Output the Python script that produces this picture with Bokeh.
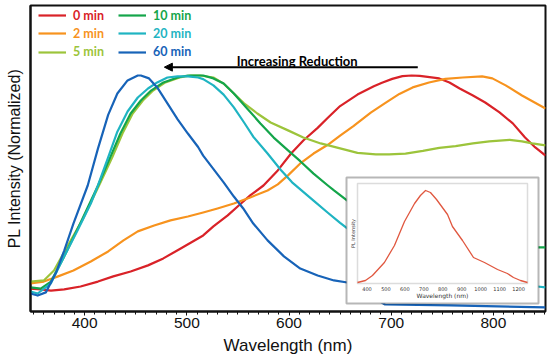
import math
from bokeh.plotting import figure
from bokeh.models import (Range1d, SingleIntervalTicker, FixedTicker, Legend, LegendItem,
                          Arrow, NormalHead, Label, BoxAnnotation)
from bokeh.core.properties import value
from bokeh.embed import file_html
from bokeh.resources import INLINE

# ---------------- data ----------------
wl_0min = [347, 357, 367, 380, 396, 413, 428, 445, 462, 477, 494, 516, 526, 540, 553, 562, 575,
           589, 602, 614, 628, 638, 650, 667, 683, 691, 701, 711, 720, 728, 747, 757, 767, 780,
           792, 806, 819, 831, 841, 851]
pl_0min = [0.053, 0.049, 0.044, 0.049, 0.062, 0.084, 0.107, 0.129, 0.156, 0.187, 0.231, 0.289,
           0.329, 0.378, 0.431, 0.467, 0.511, 0.578, 0.653, 0.711, 0.767, 0.812, 0.864, 0.915,
           0.952, 0.968, 0.985, 0.997, 1.000, 0.998, 0.987, 0.969, 0.942, 0.911, 0.880, 0.836,
           0.787, 0.724, 0.680, 0.644]

wl_2min = [347, 360, 374, 389, 406, 423, 438, 452, 468, 484, 501, 516, 530, 546, 562, 579, 589,
           599, 611, 624, 638, 650, 663, 680, 694, 708, 721, 737, 753, 770, 789, 799, 812, 828, 851]
pl_2min = [0.076, 0.084, 0.107, 0.133, 0.173, 0.218, 0.267, 0.307, 0.333, 0.356, 0.373, 0.391,
           0.409, 0.431, 0.458, 0.489, 0.516, 0.556, 0.609, 0.653, 0.692, 0.733, 0.775, 0.835,
           0.877, 0.918, 0.947, 0.969, 0.985, 0.991, 0.996, 0.987, 0.956, 0.911, 0.853]

wl_5min = [347, 360, 370, 383, 398, 415, 427, 437, 447, 457, 467, 479, 493, 504, 513, 526,
           536, 546, 556, 569, 582, 599, 614, 631, 650, 667, 685, 698, 714, 731, 747, 763, 780,
           796, 816, 828, 838, 851]
pl_5min = [0.084, 0.089, 0.133, 0.240, 0.360, 0.520, 0.636, 0.742, 0.831, 0.889, 0.933,
           0.969, 0.991, 1.000, 1.000, 0.991, 0.964, 0.920, 0.876, 0.831, 0.791, 0.756, 0.724,
           0.698, 0.676, 0.656, 0.649, 0.649, 0.653, 0.665, 0.678, 0.686, 0.698, 0.707, 0.714,
           0.707, 0.698, 0.689]

wl_10min = [347, 357, 367, 380, 396, 413, 425, 435, 445, 455, 465, 477, 491, 501, 516, 526, 536,
            546, 559, 572, 585, 599, 611, 624, 638, 644, 657, 729, 787, 843, 851]
pl_10min = [0.058, 0.053, 0.084, 0.196, 0.345, 0.510, 0.636, 0.742, 0.831, 0.889, 0.933, 0.969,
            0.991, 1.000, 1.000, 0.987, 0.964, 0.920, 0.853, 0.787, 0.724, 0.667, 0.619, 0.564,
            0.511, 0.489, 0.444, 0.333, 0.267, 0.236, 0.236]

wl_20min = [347, 354, 367, 380, 393, 406, 413, 423, 432, 442, 452, 462, 471, 481, 491, 501, 511,
            516, 526, 536, 546, 556, 565, 579, 592, 603, 624, 638, 650, 657, 729, 787, 843, 851]
pl_20min = [0.040, 0.031, 0.076, 0.196, 0.311, 0.431, 0.511, 0.636, 0.750, 0.840, 0.902, 0.942,
            0.969, 0.991, 0.996, 0.996, 0.991, 0.984, 0.956, 0.915, 0.858, 0.791, 0.728, 0.653,
            0.580, 0.525, 0.444, 0.390, 0.345, 0.320, 0.169, 0.093, 0.062, 0.058]

wl_60min = [347, 354, 362, 372, 380, 389, 403, 413, 423, 432, 442, 452, 455, 463, 471, 481, 491,
            501, 511, 516, 536, 546, 555, 565, 579, 595, 611, 628, 644, 657, 694, 758, 851]
pl_60min = [0.031, 0.022, 0.036, 0.124, 0.222, 0.342, 0.511, 0.675, 0.825, 0.920, 0.978, 1.000,
            1.000, 0.987, 0.947, 0.876, 0.805, 0.742, 0.682, 0.644, 0.525, 0.462, 0.410, 0.342,
            0.267, 0.196, 0.142, 0.111, 0.089, 0.080, -0.018, -0.022, -0.031]

series_labels = ["0 min", "2 min", "5 min", "10 min", "20 min", "60 min"]
series_colors = ["#d92228", "#f7931e", "#9cc43b", "#14a54a", "#1fb4c2", "#1763b8"]

# inset spectrum
inset_wl = [350, 392, 429, 492, 545, 598, 651, 682, 709, 735, 767, 798, 825, 851, 904, 962,
            1020, 1089, 1141, 1173, 1210, 1247]
inset_pl = [0.01, 0.03, 0.08, 0.21, 0.38, 0.62, 0.80, 0.88, 0.93, 0.91, 0.84, 0.76, 0.69, 0.57,
            0.43, 0.26, 0.21, 0.14, 0.10, 0.06, 0.03, 0.01]
inset_ticks = [400, 500, 600, 700, 800, 900, 1000, 1100, 1200]

arrow_text = "Increasing Reduction"

# ---------------- layout constants ----------------
W, H = 550, 359
FL, FR, FT, FB = 30, 545, 5, 311          # frame edges in px
XLIM = (347, 851)
YLIM = (-0.049, 1.311)

p = figure(width=W, height=H, x_range=Range1d(*XLIM), y_range=Range1d(*YLIM),
           output_backend="svg", toolbar_location=None,
           min_border_left=FL, min_border_right=W - FR, min_border_top=FT,
           min_border_bottom=H - FB)
p.background_fill_color = "white"
p.border_fill_color = "white"
p.outline_line_color = "#111111"
p.outline_line_width = 2
p.xgrid.visible = False
p.ygrid.visible = False

# x axis
xa = p.xaxis[0]
xa.ticker = SingleIntervalTicker(interval=100, num_minor_ticks=10)
xa.axis_line_color = "#111111"
xa.axis_line_width = 2
xa.major_tick_in = 0
xa.major_tick_out = 4
xa.minor_tick_in = 0
xa.minor_tick_out = 3
xa.major_tick_line_color = "#111111"
xa.minor_tick_line_color = "#111111"
xa.major_label_text_font = "Liberation Sans"
xa.major_label_text_font_size = "15.5px"
xa.major_label_text_color = "#111111"
xa.major_label_standoff = 2
xa.axis_label = "Wavelength (nm)"
xa.axis_label_text_font = "Liberation Sans"
xa.axis_label_text_font_style = "normal"
xa.axis_label_text_font_size = "17px"
xa.axis_label_text_color = "#111111"
xa.axis_label_standoff = 5

ya = p.yaxis[0]
ya.ticker = FixedTicker(ticks=[])
ya.axis_line_color = "#111111"
ya.axis_line_width = 2
ya.major_tick_out = 0
ya.major_tick_in = 0
ya.minor_tick_out = 0
ya.minor_tick_in = 0
ya.axis_label = "PL Intensity (Normalized)"
ya.axis_label_text_font = "Liberation Sans"
ya.axis_label_text_font_style = "normal"
ya.axis_label_text_font_size = "16px"
ya.axis_label_text_color = "#111111"
ya.axis_label_standoff = 8

# main curves
all_wl = [wl_0min, wl_2min, wl_5min, wl_10min, wl_20min, wl_60min]
all_pl = [pl_0min, pl_2min, pl_5min, pl_10min, pl_20min, pl_60min]
renderers = []
for wl, pl, col in zip(all_wl, all_pl, series_colors):
    renderers.append(p.line(wl, pl, line_color=col, line_width=2.2, line_join="round"))

# legends: one per entry so each label gets its own colour
leg_cols = [8, 88]                  # px from frame left
leg_rows = [10, 28.3, 46.7]         # px from frame top (row centres)
ITEM_H = 16
for i, (lab, col, r) in enumerate(zip(series_labels, series_colors, renderers)):
    cx = leg_cols[i // 3]
    cy = (FB - FT) - leg_rows[i % 3] - ITEM_H / 2
    lg = Legend(items=[LegendItem(label=lab, renderers=[r])], location=(cx, cy),
                padding=0, margin=0, spacing=0, glyph_width=28, glyph_height=ITEM_H,
                label_height=ITEM_H, label_standoff=7,
                label_text_font="Lato", label_text_font_style="bold",
                label_text_font_size="12.5px", label_text_color=col,
                background_fill_alpha=0, border_line_alpha=0)
    p.add_layout(lg)

# arrow annotation
ARROW_Y = 1.037
p.add_layout(Arrow(end=NormalHead(size=8, fill_color="black", line_color="black"),
                   x_start=726, y_start=ARROW_Y, x_end=478, y_end=ARROW_Y,
                   line_color="black", line_width=2))
p.add_layout(Label(x=608, y=1.064, text=arrow_text, text_align="center",
                   text_baseline="alphabetic", text_font="Lato", text_font_style="bold",
                   text_font_size="13px", text_color="black"))

# ---------------- inset (drawn through extra ranges) ----------------
IN_L, IN_R, IN_T, IN_B = 357, 527, 183, 283   # inner inset frame px
INSET_XLIM = (350, 1247)
kx = (IN_R - IN_L) / (INSET_XLIM[1] - INSET_XLIM[0])
ky = (IN_B - IN_T) / 1.0
p.extra_x_ranges = {"ix": Range1d(INSET_XLIM[0] - (IN_L - FL) / kx,
                                  INSET_XLIM[1] + (FR - IN_R) / kx)}
p.extra_y_ranges = {"iy": Range1d(-(FB - IN_B) / ky, 1 + (IN_T - FT) / ky)}


def ix(px):
    return INSET_XLIM[0] + (px - IN_L) / kx


def iy(py):
    return (IN_B - py) / ky


p.add_layout(BoxAnnotation(left=ix(346), right=ix(538), top=iy(177), bottom=iy(303),
                           x_range_name="ix", y_range_name="iy",
                           fill_color="white", fill_alpha=1,
                           line_color="#111111", line_width=2))
p.add_layout(BoxAnnotation(left=ix(IN_L), right=ix(IN_R), top=iy(IN_T), bottom=iy(IN_B),
                           x_range_name="ix", y_range_name="iy",
                           fill_alpha=0, line_color="#8c8c8c", line_width=1.5))

p.line(inset_wl, inset_pl, line_color="#e0573f", line_width=1.3, line_join="round",
       x_range_name="ix", y_range_name="iy", level="overlay")
p.text(x=inset_ticks, y=[iy(288)] * len(inset_ticks), text=[str(t) for t in inset_ticks],
       x_range_name="ix", y_range_name="iy", level="overlay",
       text_align="center", text_baseline="middle", text_font=value("DejaVu Sans"),
       text_font_size="5px", text_color="#333333")
p.add_layout(Label(x=ix(442), y=iy(295), text="Wavelength (nm)", x_range_name="ix",
                   y_range_name="iy", text_align="center", text_baseline="middle",
                   text_font="DejaVu Sans", text_font_size="6px", text_color="#333333",
                   level="overlay"))
p.add_layout(Label(x=ix(352), y=iy(233), text="PL Intensity", x_range_name="ix",
                   y_range_name="iy", text_align="center", text_baseline="middle",
                   angle=math.pi / 2, text_font="DejaVu Sans", text_font_size="5px",
                   text_color="#333333", level="overlay"))

open("out.html", "w").write(file_html(p, INLINE))
